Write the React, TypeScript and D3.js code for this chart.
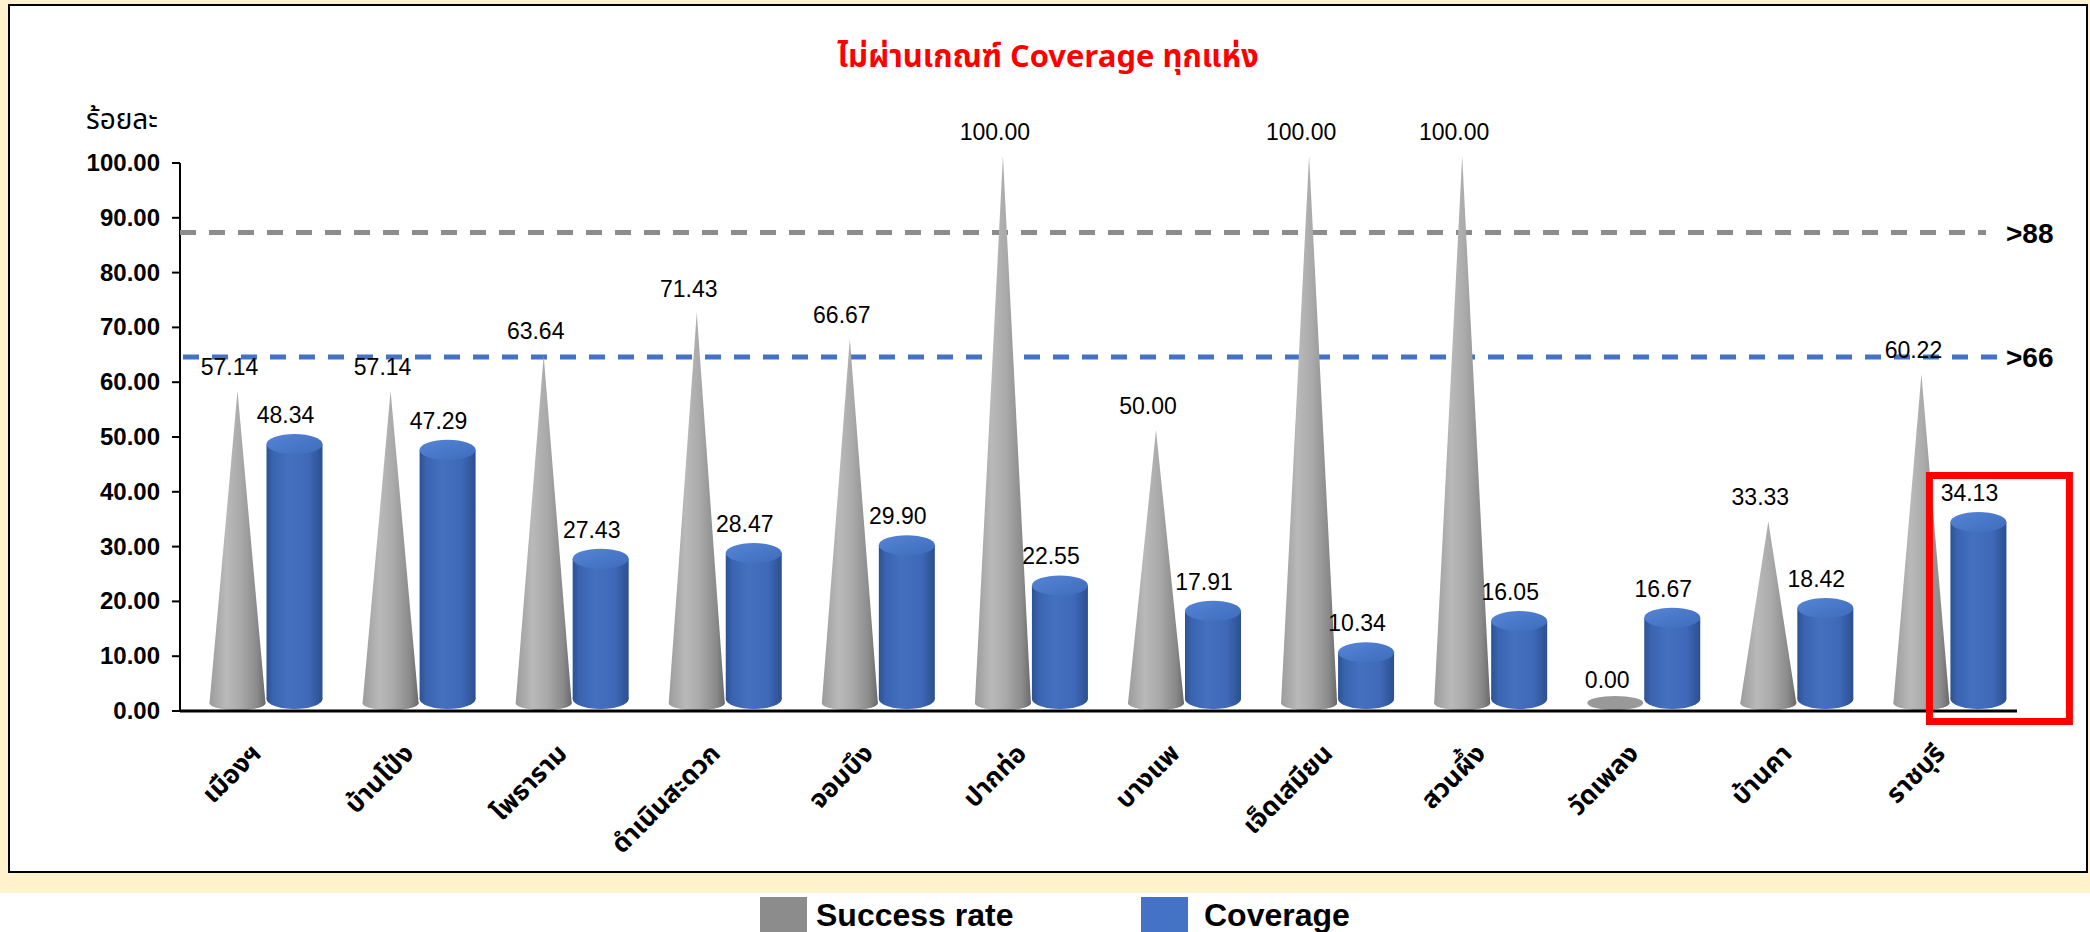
import React from 'react';
import * as d3 from 'd3';

const categories = ['เมืองฯ', 'บ้านโป่ง', 'โพธาราม', 'ดำเนินสะดวก', 'จอมบึง', 'ปากท่อ', 'บางแพ', 'เจ็ดเสมียน', 'สวนผึ้ง', 'วัดเพลง', 'บ้านคา', 'ราชบุรี'];
const successRate = [57.14, 57.14, 63.64, 71.43, 66.67, 100, 50, 100, 100, 0, 33.33, 60.22];
const coverage = [48.34, 47.29, 27.43, 28.47, 29.9, 22.55, 17.91, 10.34, 16.05, 16.67, 18.42, 34.13];
const yTicks = [0, 10, 20, 30, 40, 50, 60, 70, 80, 90, 100];
const seriesNames = ['Success rate', 'Coverage'];
const targetLabels = ['>88', '>66'];
const targetValues = [87.3, 64.6];
const highlightCategory = 'ราชบุรี';

const W = 2090;
const H = 932;
const THAI = "Tahoma, 'Noto Sans Thai', 'Noto Sans Thai UI', 'Leelawadee UI', 'Garuda', 'Loma', 'Liberation Sans', sans-serif";
const ARIAL = "'Liberation Sans', Arial, Helvetica, sans-serif";
const GREY = '#8c8c8c';
const BLUE = '#4472c4';

export default function App() {
  const x = d3.scaleBand<string>().domain(categories).range([180, 2017]).padding(0);
  const x1 = d3.scaleBand<string>().domain(seriesNames).range([29, 143]).padding(0);
  const y = d3.scaleLinear().domain([0, 100]).range([711, 163]);
  const fmt = d3.format('.2f');
  const bw = x1.bandwidth();
  const rx = bw / 2 - 0.5;

  const coneCx = (c: string) => (x(c) as number) + (x1('Success rate') as number) + bw / 2;
  const cylCx = (c: string) => (x(c) as number) + (x1('Coverage') as number) + bw / 2;
  const y0 = y(0);

  const conePath = (cx: number, v: number) => {
    const tip = y(v) - 7;
    const by = y0 - 8;
    const p = d3.path();
    p.moveTo(cx, tip);
    p.lineTo(cx - rx, by);
    const steps = 24;
    for (let i = 0; i <= steps; i++) {
      const a = Math.PI - (Math.PI * i) / steps;
      p.lineTo(cx + rx * Math.cos(a), by + 7 * Math.sin(a));
    }
    p.lineTo(cx, tip);
    p.closePath();
    return p.toString();
  };

  const hx = x(highlightCategory) as number;

  return (
    <svg width={W} height={H} style={{ position: 'absolute', left: 0, top: 0, display: 'block', background: '#fff' }}>
      <defs>
        <linearGradient id="coneGrad" x1="0" x2="1" y1="0" y2="0">
          <stop offset="0" stopColor="#9c9c9c" />
          <stop offset="0.3" stopColor="#b9b9b9" />
          <stop offset="0.55" stopColor="#aaaaaa" />
          <stop offset="0.85" stopColor="#8a8a8a" />
          <stop offset="1" stopColor="#6a6a6a" />
        </linearGradient>
        <linearGradient id="cylGrad" x1="0" x2="1" y1="0" y2="0">
          <stop offset="0" stopColor="#2c5293" />
          <stop offset="0.12" stopColor="#3a64b0" />
          <stop offset="0.4" stopColor="#4470c0" />
          <stop offset="0.75" stopColor="#3f69b8" />
          <stop offset="1" stopColor="#2b4f90" />
        </linearGradient>
        <linearGradient id="cylTop" x1="0" x2="1" y1="0" y2="1">
          <stop offset="0" stopColor="#5585d6" />
          <stop offset="1" stopColor="#3f6cbd" />
        </linearGradient>
      </defs>

      <rect x={0} y={0} width={W} height={893} fill="#fff2cc" />
      <rect x={9} y={5} width={2078} height={867} fill="#ffffff" stroke="#000" strokeWidth={2} />

      <text x={1048} y={67} textAnchor="middle" fill="#ff0000" fontFamily={THAI} fontWeight="bold" fontSize={31}>
        ไม่ผ่านเกณฑ์ Coverage ทุกแห่ง
      </text>

      <text x={86} y={129} fontFamily={THAI} fontSize={28} fill="#000">ร้อยละ</text>

      <line x1={180} x2={180} y1={y(100)} y2={y0} stroke="#000" strokeWidth={2} />
      {yTicks.map(t => (
        <g key={t}>
          <line x1={172} x2={180} y1={y(t)} y2={y(t)} stroke="#000" strokeWidth={2} />
          <text x={160} y={y(t) + 8} textAnchor="end" fontFamily={ARIAL} fontWeight="bold" fontSize={24} fill="#000">
            {fmt(t)}
          </text>
        </g>
      ))}

      <line x1={180} x2={1986} y1={y(targetValues[0])} y2={y(targetValues[0])} stroke={GREY} strokeWidth={5} strokeDasharray="16 13" />
      <line x1={183} x2={1999} y1={y(targetValues[1])} y2={y(targetValues[1])} stroke={BLUE} strokeWidth={5} strokeDasharray="16 13" />

      {categories.map((c, i) => {
        const cx = coneCx(c);
        const cy = cylCx(c);
        const sv = successRate[i];
        const cv = coverage[i];
        const topY = y(cv) - 2;
        const botY = y0 - 12;
        return (
          <g key={c}>
            <ellipse cx={cx} cy={y0 - 8} rx={rx} ry={7} fill={sv === 0 ? '#999999' : 'url(#coneGrad)'} />
            {sv > 0 && <path d={conePath(cx, sv)} fill="url(#coneGrad)" />}
            <ellipse cx={cy} cy={botY} rx={rx} ry={10} fill="url(#cylGrad)" />
            <rect x={cy - rx} y={topY} width={rx * 2} height={botY - topY} fill="url(#cylGrad)" />
            <ellipse cx={cy} cy={topY} rx={rx} ry={10} fill="url(#cylTop)" />
            <text x={cx - 8} y={y(sv) - 23} textAnchor="middle" fontFamily={ARIAL} fontSize={23} fill="#000">{fmt(sv)}</text>
            <text x={cy - 9} y={y(cv) - 23} textAnchor="middle" fontFamily={ARIAL} fontSize={23} fill="#000">{fmt(cv)}</text>
          </g>
        );
      })}

      <line x1={180} x2={2017} y1={y0} y2={y0} stroke="#000" strokeWidth={3} />
      {categories.map(c => {
        const cx = (x(c) as number) + x.bandwidth() / 2 + 6;
        return (
          <text key={c} transform={`translate(${cx},${y0 + 44}) rotate(-45)`} textAnchor="end" fontFamily={THAI} fontWeight="bold" fontSize={26} fill="#000">
            {c}
          </text>
        );
      })}

      <text x={2006} y={y(targetValues[0]) + 10} fontFamily={ARIAL} fontWeight="bold" fontSize={28} fill="#000">{targetLabels[0]}</text>
      <text x={2006} y={y(targetValues[1]) + 10} fontFamily={ARIAL} fontWeight="bold" fontSize={28} fill="#000">{targetLabels[1]}</text>

      <rect x={hx + 65.5} y={475.5} width={140} height={y0 + 10.5 - 475.5} fill="none" stroke="#ff0000" strokeWidth={7} />

      <rect x={760} y={897} width={47} height={40} fill={GREY} />
      <text x={816} y={926} fontFamily={ARIAL} fontWeight="bold" fontSize={32} fill="#000">{seriesNames[0]}</text>
      <rect x={1141} y={897} width={47} height={40} fill={BLUE} />
      <text x={1204} y={926} fontFamily={ARIAL} fontWeight="bold" fontSize={32} fill="#000">{seriesNames[1]}</text>
    </svg>
  );
}
